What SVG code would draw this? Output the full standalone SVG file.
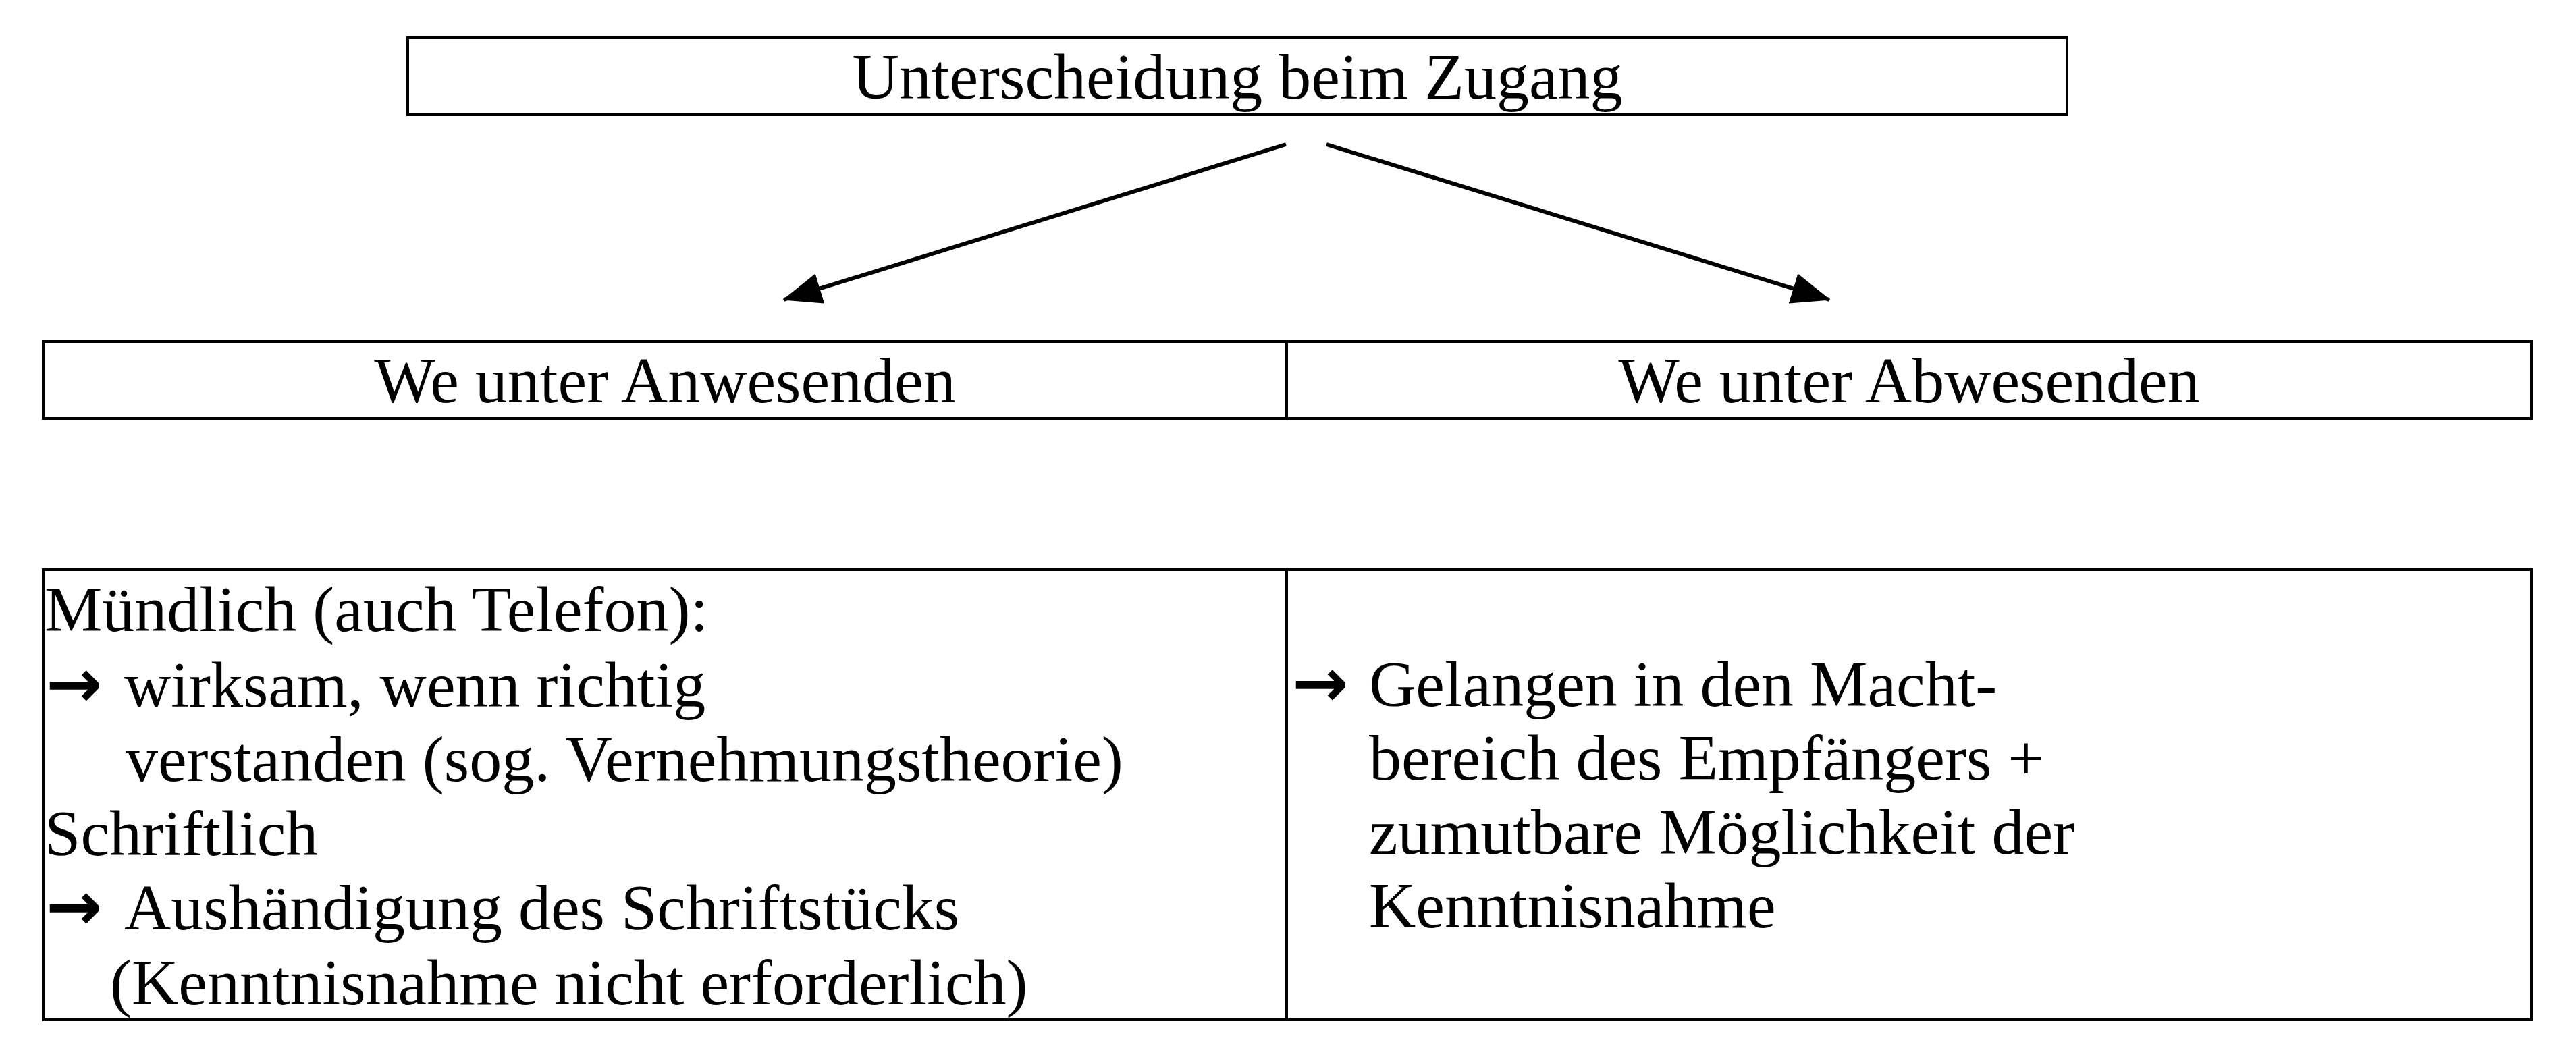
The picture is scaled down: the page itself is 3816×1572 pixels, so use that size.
<svg xmlns="http://www.w3.org/2000/svg" width="3816" height="1572" viewBox="0 0 3816 1572">
  <style>
    .box { fill: #ffffff; stroke: #000000; stroke-width: 4; }
    .t { font-family: "Liberation Serif", "Times New Roman", serif; font-size: 96px; fill: #000000; }
    .c { text-anchor: middle; }
    .sym { font-family: "DejaVu Sans", sans-serif; font-weight: bold; font-size: 100px; fill: #000000; }
    .conn { stroke: #000000; stroke-width: 6; fill: none; }
  </style>
  <defs>
    <marker id="arrowhead" markerUnits="userSpaceOnUse" markerWidth="58" markerHeight="46" refX="56" refY="23" orient="auto">
      <path d="M0,0 L58,23 L0,46 Z" fill="#000000"/>
    </marker>
  </defs>
  <rect width="3816" height="1572" fill="#ffffff"/>

  <!-- heading -->
  <g id="node-zugang">
    <rect class="box" x="604" y="56" width="2458" height="114"/>
    <text class="t c" x="1833" y="146">Unterscheidung beim Zugang</text>
  </g>

  <!-- two branches side by side -->
  <g id="node-anwesende">
    <rect class="box" x="64" y="506" width="1842" height="114"/>
    <text class="t c" x="985" y="596">We unter Anwesenden</text>
  </g>
  <g id="node-abwesende">
    <rect class="box" x="1906" y="506" width="1844" height="114"/>
    <text class="t c" x="2828" y="596">We unter Abwesenden</text>
  </g>

  <!-- details for each branch -->
  <g id="node-anwesende-detail">
    <rect class="box" x="64" y="844" width="1842" height="667"/>
    <text class="t" x="66" y="935">Mündlich (auch Telefon):</text>
    <text class="sym" x="68" y="1047">→</text>
    <text class="t" x="184" y="1047">wirksam, wenn richtig</text>
    <text class="t" x="186" y="1157">verstanden (sog. Vernehmungstheorie)</text>
    <text class="t" x="66" y="1267">Schriftlich</text>
    <text class="sym" x="68" y="1377">→</text>
    <text class="t" x="184" y="1377">Aushändigung des Schriftstücks</text>
    <text class="t" x="163" y="1488">(Kenntnisnahme nicht erforderlich)</text>
  </g>
  <g id="node-abwesende-detail">
    <rect class="box" x="1906" y="844" width="1844" height="667"/>
    <text class="sym" x="1914" y="1046">→</text>
    <text class="t" x="2028" y="1046">Gelangen in den Macht-</text>
    <text class="t" x="2028" y="1155">bereich des Empfängers +</text>
    <text class="t" x="2028" y="1265">zumutbare Möglichkeit der</text>
    <text class="t" x="2028" y="1374">Kenntnisnahme</text>
  </g>

  <!-- connectors -->
  <g id="connectors">
    <line class="conn" x1="1905" y1="214" x2="1161" y2="444" marker-end="url(#arrowhead)"/>
    <line class="conn" x1="1965" y1="214" x2="2710" y2="444" marker-end="url(#arrowhead)"/>
  </g>
</svg>
